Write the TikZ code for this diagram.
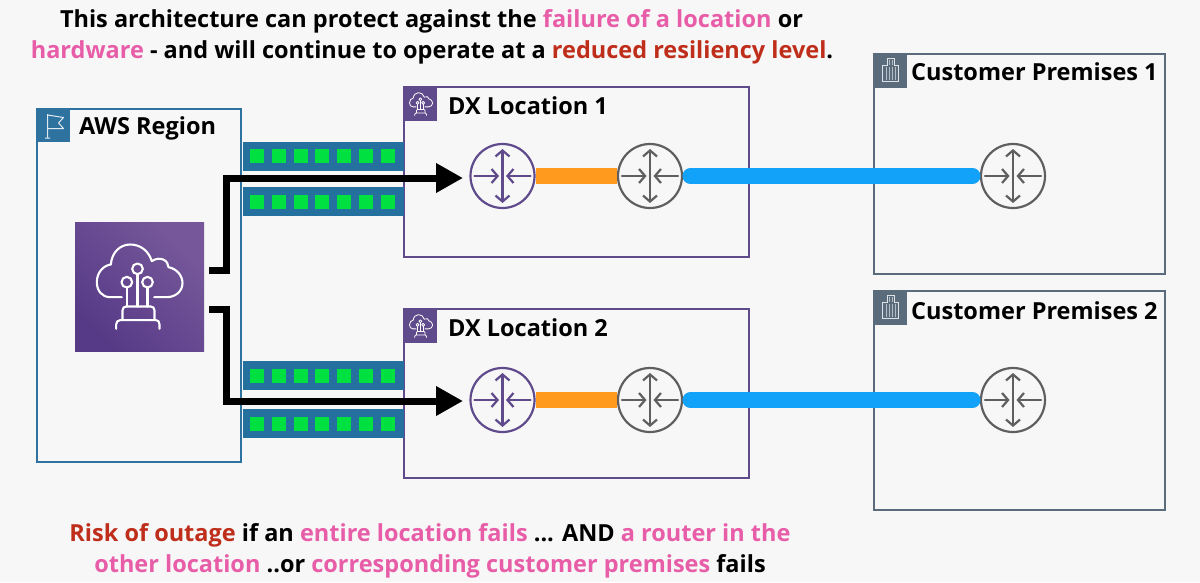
\documentclass[tikz,border=0pt]{standalone}
\usepackage{fontspec}
\setmainfont{Open Sans}
\usetikzlibrary{arrows.meta,calc,shadings}
\definecolor{bgc}{HTML}{F7F7F7}
\definecolor{awsblue}{HTML}{2E73A0}
\definecolor{barblue}{HTML}{24709F}
\definecolor{awspurple}{HTML}{5F4A8B}
\definecolor{iconlo}{HTML}{573A87}
\definecolor{iconhi}{HTML}{76589A}
\definecolor{slatec}{HTML}{5A6B7C}
\definecolor{greyr}{HTML}{5F5F5F}
\definecolor{gr}{HTML}{00E040}
\definecolor{orangec}{HTML}{FF9A1F}
\definecolor{bluec}{HTML}{12A2FA}
\definecolor{pinkc}{HTML}{E85DA8}
\definecolor{redc}{HTML}{BF2E1B}
\newcommand{\pk}[1]{\textcolor{pinkc}{#1}}
\newcommand{\rd}[1]{\textcolor{redc}{#1}}
\tikzset{
  x=1pt,y=-1pt,
  box/.style={draw,line width=2.8pt,anchor=north west,inner sep=0pt,outer sep=0pt},
  tabbox/.style={anchor=north west,inner sep=0pt,outer sep=0pt,minimum width=34pt,minimum height=34pt},
  titletext/.style={anchor=west,inner sep=0pt,font=\bfseries\fontsize{23.5}{26}\selectfont,text=black},
  captext/.style={inner sep=0pt,font=\bfseries\fontsize{23.5}{28}\selectfont,text=black},
  portbar/.style={fill=barblue,anchor=north west,inner sep=0pt,outer sep=0pt,minimum width=161pt,minimum height=29pt},
  led/.style={fill=gr,inner sep=0pt,minimum size=14pt},
  router/.style={circle,draw,line width=2.2pt,minimum size=64pt,inner sep=0pt,outer sep=0pt},
  blackline/.style={line width=7pt,black,line join=miter},
  rtr/.pic={
    \begin{scope}[line width=2.2pt,line cap=round]
    \draw[{Straight Barb[length=6pt,width=14pt]}-{Straight Barb[length=6pt,width=14pt]}] (0,-27)--(0,27);
    \draw[-{Straight Barb[length=6pt,width=14pt]}] (-28,0)--(-3.5,0);
    \draw[-{Straight Barb[length=6pt,width=14pt]}] (28,0)--(3.5,0);
    \end{scope}
  },
  cloudicon/.pic={
    \begin{scope}[shift={(-358,-588)},draw=white,line cap=round,line join=round]
    \draw (305,620) -- (270,620) .. controls (245,620) and (230,600) .. (230,575) .. controls (230,545) and (250,525) .. (272,522) .. controls (275,485) and (300,462) .. (330,462) .. controls (360,462) and (385,480) .. (395,512) .. controls (420,495) and (445,510) .. (445,530) .. controls (470,535) and (487,555) .. (487,578) .. controls (487,603) and (465,620) .. (440,620) -- (402,620);
    \draw (352,535) circle (16);
    \draw (320,575) circle (16);
    \draw (382,575) circle (16);
    \draw (320,591)--(320,648);
    \draw (352,551)--(352,648);
    \draw (382,591)--(382,648);
    \draw (307,688)--(307,660) .. controls (307,652) and (312,648) .. (318,648) -- (392,648) .. controls (398,648) and (403,652) .. (403,660) -- (403,688);
    \draw (288,715)--(288,702) .. controls (288,694) and (293,689) .. (300,689) -- (408,689) .. controls (414,689) and (418,694) .. (418,702) -- (418,715);
    \end{scope}
  }
}
\begin{document}
\begin{tikzpicture}
\useasboundingbox (0,0) rectangle (1200,582);
\fill[bgc] (0,0) rectangle (1200,582);

% containers
\node[box,draw=awsblue,minimum width=204pt,minimum height=353pt] (region) at (37,109) {};
\node[box,draw=awspurple,minimum width=345pt,minimum height=170pt] (dx1) at (404,87) {};
\node[box,draw=awspurple,minimum width=345pt,minimum height=169pt] (dx2) at (404,309) {};
\node[box,draw=slatec,minimum width=291pt,minimum height=220pt] (cp1) at (874,54) {};
\node[box,draw=slatec,minimum width=291pt,minimum height=219pt] (cp2) at (874,291) {};

% tabs
\node[tabbox,fill=awsblue] (tabr) at (36,108) {};
\node[tabbox,fill=awspurple] (tabd1) at (403,87) {};
\node[tabbox,fill=awspurple] (tabd2) at (403,309) {};
\node[tabbox,fill=slatec] (tabc1) at (873,54) {};
\node[tabbox,fill=slatec] (tabc2) at (873,291) {};

% flag glyph
\draw[white!85!awsblue,line width=1pt,line join=round] (tabr.north west)++(11.5,6) -- ++(0,24) ++(-2.5,0) -- ++(5,0) ++(-2.5,-23) -- ++(16,2.5) -- ++(-5,5.5) -- ++(5,5.5) -- ++(-16,0);
% small cloud glyphs
\pic[line width=.8pt,scale=.09] at ($(tabd1.center)+(1,0)$) {cloudicon};
\pic[line width=.8pt,scale=.09] at ($(tabd2.center)+(1,0)$) {cloudicon};
% building glyphs
\foreach \t in {tabc1,tabc2}{
  \begin{scope}[shift={(\t.north west)},white!80!slatec,line width=.7pt]
    \draw (9.7,27)--(9.7,11)--(14,11)--(14,4)--(21,4)--(21,11)--(25.7,11)--(25.7,27)--cycle;
    \foreach \xx in {13,16,19,22.5}{\draw[line width=.9pt,white!55!slatec] (\xx,13)--(\xx,25.5);}
    \foreach \xx in {16,19}{\draw[line width=.9pt,white!55!slatec] (\xx,6)--(\xx,11);}
  \end{scope}
}

% titles
\node[titletext] (tr) at (79,128.5) {AWS Region};
\node[titletext] (td1) at (448,105.5) {DX Location 1};
\node[titletext] (td2) at (448,327.5) {DX Location 2};
\node[titletext] (tc1) at (911,71.5) {Customer Premises 1};
\node[titletext] (tc2) at (911,310.5) {Customer Premises 2};

% port bars
\node[portbar] (b1) at (242.5,141.5) {};
\node[portbar] (b2) at (242.5,187) {};
\node[portbar] (b3) at (242.5,361) {};
\node[portbar] (b4) at (242.5,409) {};
\foreach \b in {b1,b2,b3,b4}{
  \foreach \i in {-3,...,3}{
    \node[led] (\b-\i) at ($(\b.center)+(\i*21.7-0.6,0)$) {};
  }
}

% routers
\node[router,draw=awspurple] (r1) at (502.5,176) {};
\node[router,draw=greyr] (r2) at (650,176) {};
\node[router,draw=greyr] (r3) at (1013,176) {};
\node[router,draw=awspurple] (r4) at (502.5,400) {};
\node[router,draw=greyr] (r5) at (650,400) {};
\node[router,draw=greyr] (r6) at (1013,400) {};
\foreach \r in {r1,r4}{\pic[draw=awspurple] at (\r) {rtr};}
\foreach \r in {r2,r3,r5,r6}{\pic[draw=greyr] at (\r) {rtr};}

% links
\draw[line width=16pt,orangec,shorten <=1pt,shorten >=1pt] (r1) -- (r2);
\draw[line width=16pt,orangec,shorten <=1pt,shorten >=1pt] (r4) -- (r5);
\draw[line width=16pt,bluec,line cap=round,shorten <=8.5pt,shorten >=8.5pt] (r2.east) -- (r3.west);
\draw[line width=16pt,bluec,line cap=round,shorten <=8.5pt,shorten >=8.5pt] (r5.east) -- (r6.west);

% region icon
\node[anchor=north west,minimum size=129pt,inner sep=0pt,outer sep=0pt,top color=iconhi,bottom color=iconlo,shading angle=-45] (icon) at (75,222) {};
\pic[line width=2.1pt,scale=.3333] at (icon.center) {cloudicon};

% black connectors
\coordinate (s1) at (209,270);
\coordinate (j1) at (226,178);
\coordinate (e1) at (470,178);
\coordinate (s2) at (209,309);
\coordinate (j2) at (226,401);
\coordinate (e2) at (470,401);
\draw[blackline,-{Triangle[length=27pt,width=28pt]},shorten >=7pt] (s1) -| (j1) -- (e1);
\draw[blackline,-{Triangle[length=27pt,width=28pt]},shorten >=7pt] (s2) -| (j2) -- (e2);

% captions
\node[captext] (c1) at (431.5,21) {This architecture can protect against the \pk{failure of a location} or};
\node[captext] (c2) at (432,52.5) {\pk{hardware} - and will continue to operate at a \rd{reduced resiliency level}.};
\node[captext] (c3) at (430,535.5) {\rd{Risk of outage} if an \pk{entire location fails} ... AND \pk{a router in the}};
\node[captext] (c4) at (430,566.5) {\pk{other location} ..or \pk{corresponding customer premises} fails};
\end{tikzpicture}
\end{document}
